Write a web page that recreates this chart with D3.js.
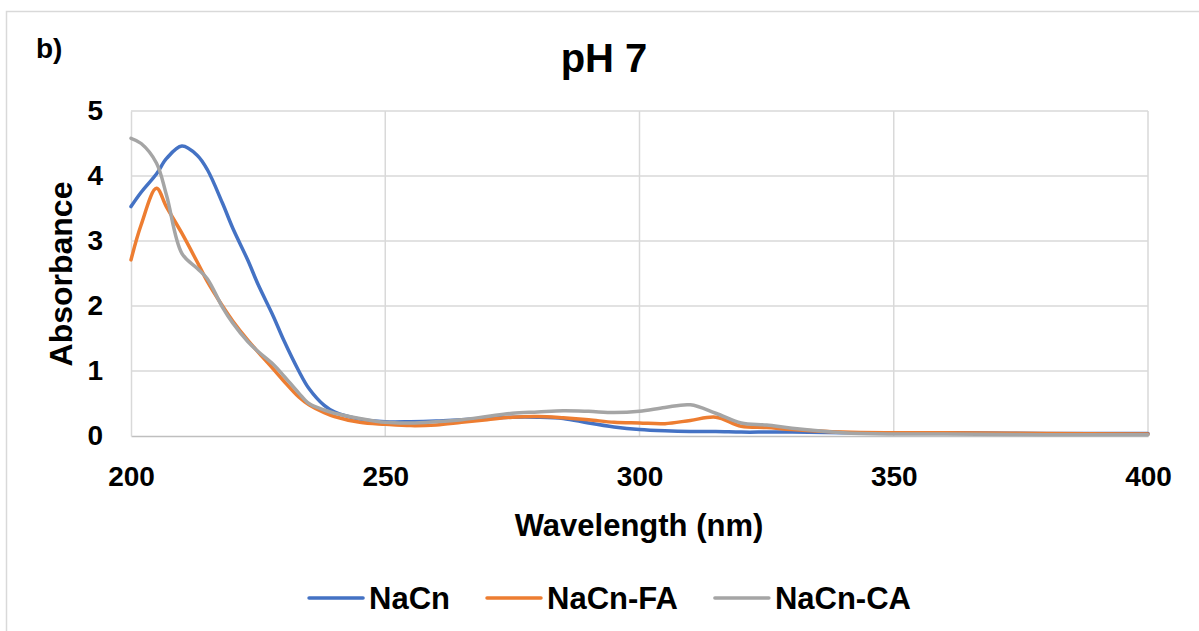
<!DOCTYPE html>
<html>
<head>
<meta charset="utf-8">
<script src="https://cdn.jsdelivr.net/npm/d3@7"></script>
<style>
  html, body { margin: 0; padding: 0; background: #fff; }
  svg text { font-family: "Liberation Sans", Arial, sans-serif; font-weight: bold; fill: #000; }
</style>
</head>
<body>
<svg id="chart" width="1199" height="631"></svg>
<script>
// UV-Vis absorbance spectra at pH 7
const wavelengths = [200, 202, 205, 207, 210, 213, 215, 218, 220, 223, 225, 228, 230, 233, 235, 238, 240, 245,
  250, 255, 260, 265, 270, 275, 280, 285, 290, 295, 300, 305, 310, 315, 320, 325, 330, 340, 350, 360, 380, 400];

const naCn = [3.53, 3.75, 4.03, 4.27, 4.46, 4.32, 4.10, 3.58, 3.20, 2.70, 2.33, 1.84, 1.48, 1.00, 0.73, 0.47, 0.37, 0.26,
  0.22, 0.22, 0.23, 0.25, 0.27, 0.29, 0.29, 0.27, 0.20, 0.14, 0.10, 0.08, 0.07, 0.07, 0.06, 0.06, 0.06, 0.05, 0.05, 0.05, 0.04, 0.04];

const naCnFA = [2.71, 3.25, 3.81, 3.52, 3.12, 2.68, 2.38, 2.00, 1.77, 1.47, 1.29, 1.03, 0.85, 0.60, 0.48, 0.36, 0.30, 0.21,
  0.18, 0.16, 0.17, 0.21, 0.25, 0.29, 0.30, 0.28, 0.25, 0.21, 0.20, 0.19, 0.24, 0.29, 0.15, 0.13, 0.10, 0.06, 0.05, 0.05, 0.04, 0.03];

const naCnCA = [4.58, 4.50, 4.20, 3.70, 2.81, 2.58, 2.42, 1.98, 1.74, 1.45, 1.30, 1.10, 0.93, 0.66, 0.50, 0.40, 0.35, 0.27,
  0.21, 0.20, 0.22, 0.25, 0.30, 0.35, 0.37, 0.39, 0.38, 0.36, 0.38, 0.44, 0.48, 0.35, 0.20, 0.17, 0.12, 0.05, 0.03, 0.03, 0.02, 0.02];

const seriesNames = ["NaCn", "NaCn-FA", "NaCn-CA"];
const seriesColors = ["#4472C4", "#ED7D31", "#A5A5A5"];
const seriesValues = [naCn, naCnFA, naCnCA];

const xTicks = [200, 250, 300, 350, 400];
const yTicks = [0, 1, 2, 3, 4, 5];

const titleText = "pH 7";
const panelLabel = "b)";
const xTitle = "Wavelength (nm)";
const yTitle = "Absorbance";

const svg = d3.select("#chart");

// outer chart frame
svg.append("rect")
  .attr("x", 6.5).attr("y", 11.5)
  .attr("width", 1300).attr("height", 700)
  .attr("fill", "#fff").attr("stroke", "#d9d9d9").attr("stroke-width", 1.5);

const plot = { left: 131, right: 1148, top: 111, bottom: 436 };

const x = d3.scaleLinear().domain([200, 400]).range([plot.left, plot.right]);
const y = d3.scaleLinear().domain([0, 5]).range([plot.bottom, plot.top]);

// gridlines
const grid = svg.append("g");
grid.selectAll("line.h").data(yTicks.filter(d => d > 0)).join("line")
  .attr("x1", plot.left).attr("x2", plot.right)
  .attr("y1", d => y(d)).attr("y2", d => y(d))
  .attr("stroke", "#d9d9d9").attr("stroke-width", 1.5);
grid.selectAll("line.v").data(xTicks.filter(d => d > 200)).join("line")
  .attr("x1", d => x(d)).attr("x2", d => x(d))
  .attr("y1", plot.top).attr("y2", plot.bottom)
  .attr("stroke", "#d9d9d9").attr("stroke-width", 1.5);

// axes
const xAxis = svg.append("g")
  .attr("transform", `translate(0,${plot.bottom})`)
  .call(d3.axisBottom(x).tickValues(xTicks).tickFormat(d3.format("d")).tickSize(0).tickPadding(30));
xAxis.select(".domain").attr("stroke", "#bfbfbf").attr("stroke-width", 1.5);
xAxis.selectAll("text").style("font-size", "28px").style("font-family", null);

const yAxis = svg.append("g")
  .attr("transform", `translate(${plot.left},0)`)
  .call(d3.axisLeft(y).tickValues(yTicks).tickFormat(d3.format("d")).tickSize(0).tickPadding(28));
yAxis.select(".domain").attr("stroke", "#d9d9d9").attr("stroke-width", 1.5);
yAxis.selectAll("text").style("font-size", "28px").style("font-family", null);

// spectra
const line = d3.line()
  .x(d => x(d[0]))
  .y(d => y(d[1]))
  .curve(d3.curveCatmullRom.alpha(0.5));

seriesValues.forEach((vals, i) => {
  svg.append("path")
    .datum(wavelengths.map((w, k) => [w, vals[k]]))
    .attr("d", line)
    .attr("fill", "none")
    .attr("stroke", seriesColors[i])
    .attr("stroke-width", 3.5)
    .attr("stroke-linejoin", "round")
    .attr("stroke-linecap", "round");
});

// titles
svg.append("text").attr("x", 604).attr("y", 72)
  .attr("text-anchor", "middle").style("font-size", "40px").text(titleText);
svg.append("text").attr("x", 36).attr("y", 58)
  .style("font-size", "28px").text(panelLabel);
svg.append("text").attr("x", 639).attr("y", 536)
  .attr("text-anchor", "middle").style("font-size", "31px").text(xTitle);
svg.append("text")
  .attr("transform", "translate(72,274) rotate(-90)")
  .attr("text-anchor", "middle").style("font-size", "32px").text(yTitle);

// legend
const legend = svg.append("g");
const lineLen = 54, textGap = 6, itemGap = 37, legendY = 598;
let cursor = 0;
seriesNames.forEach((name, i) => {
  const g = legend.append("g");
  g.append("line")
    .attr("x1", 0).attr("x2", lineLen)
    .attr("y1", 0).attr("y2", 0)
    .attr("stroke", seriesColors[i]).attr("stroke-width", 3.5)
    .attr("stroke-linecap", "round");
  const t = g.append("text")
    .attr("x", lineLen + textGap).attr("y", 11)
    .style("font-size", "31px").text(name);
  const w = lineLen + textGap + t.node().getComputedTextLength();
  g.attr("transform", `translate(${cursor},${legendY})`);
  cursor += w + itemGap;
});
const legendWidth = cursor - itemGap;
legend.attr("transform", `translate(${610 - legendWidth / 2},0)`);
</script>
</body>
</html>
